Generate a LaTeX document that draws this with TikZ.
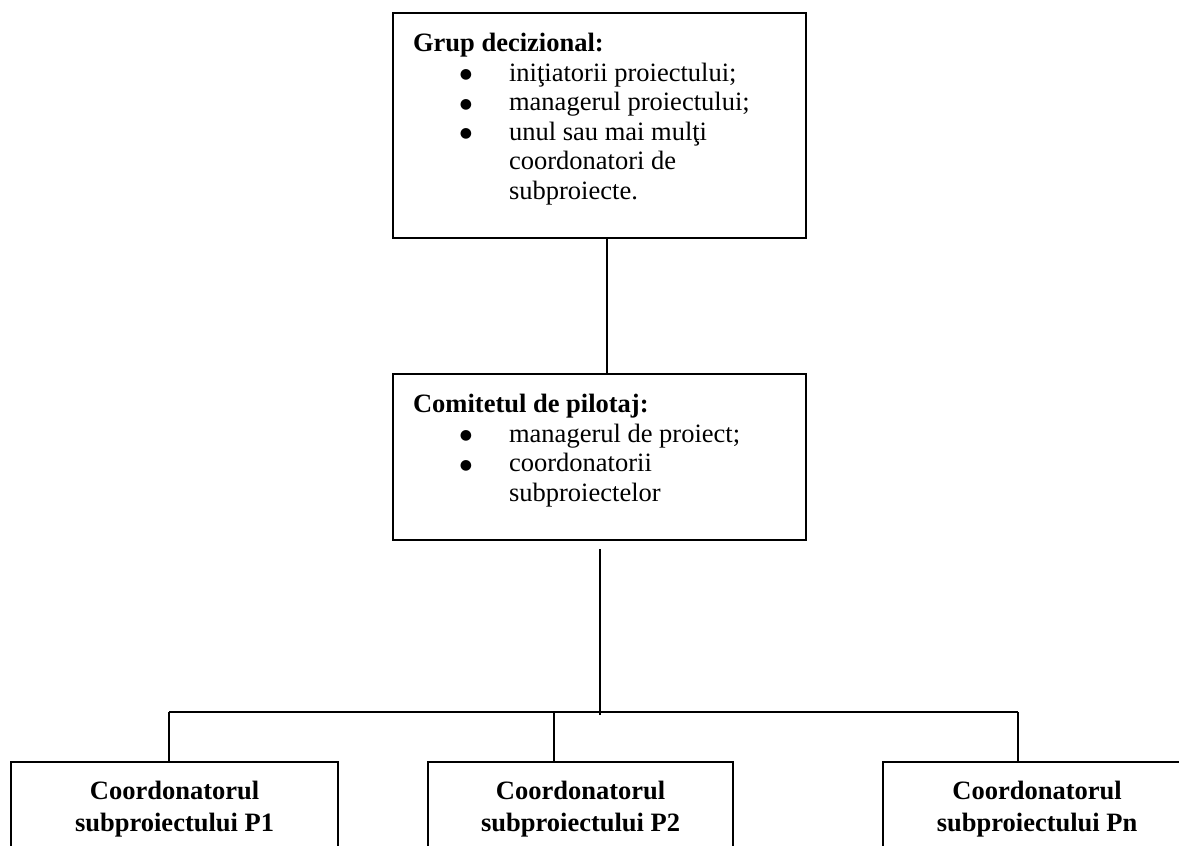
\documentclass[tikz,border=0pt]{standalone}
\usepackage{fontspec}
\setmainfont{Liberation Serif}
\newfontfamily\dotfont{DejaVu Sans}
\newcommand{\bulletline}[1]{\hspace*{23.5pt}\makebox[6pt][c]{\raisebox{1.3pt}{\dotfont\fontsize{7}{7}\selectfont ●}}\hspace*{18.5pt}#1}
\newcommand{\wrapline}[1]{\hspace*{48pt}#1}

\begin{document}
\begin{tikzpicture}[x=0.5pt, y=-0.5pt,
        box/.style={draw, line width=1.1pt, anchor=north west, inner xsep=10pt, inner ysep=10pt, font=\fontsize{13.25}{14.8}\selectfont},
        subbox/.style={draw, line width=1.1pt, anchor=north west, inner xsep=0pt, inner ysep=9.5pt, font=\fontsize{13.25}{16}\selectfont\bfseries},
        link/.style={line width=0.9pt}]
        \useasboundingbox (0,0) rectangle (1179,846);
        \clip (0,0) rectangle (1179,846);

        \node[box] (grup) at (392,12) {\parbox[t][92.5pt][t]{186.5pt}{\textbf{Grup decizional:}\\
            \bulletline{iniţiatorii proiectului;}\\
            \bulletline{managerul proiectului;}\\
            \bulletline{unul sau mai mulţi}\\
            \wrapline{coordonatori de}\\
            \wrapline{subproiecte.}}};

        \node[box] (comitet) at (392,373) {\parbox[t][63pt][t]{186.5pt}{\textbf{Comitetul de pilotaj:}\\
            \bulletline{managerul de proiect;}\\
            \bulletline{coordonatorii}\\
            \wrapline{subproiectelor}}};

        \node[subbox] (p1) at (10,761) {\parbox[t][50pt][t]{163.5pt}{\centering Coordonatorul\\subproiectului P1}};
        \node[subbox] (p2) at (427,761) {\parbox[t][50pt][t]{152.5pt}{\centering Coordonatorul\\subproiectului P2}};
        \node[subbox] (pn) at (882,761) {\parbox[t][50pt][t]{154pt}{\centering Coordonatorul\\subproiectului Pn}};

        \draw[link] ([xshift=3.75pt]grup.south) -- ([xshift=3.75pt]grup.south |- comitet.north);

        \coordinate (hub) at (598,712);
        \coordinate (d1) at (169,712);
        \coordinate (d2) at (554,712);
        \coordinate (d3) at (1018,712);
        \draw[link] ([yshift=-4pt]comitet.south) -- ([yshift=-1.5pt]comitet.south |- hub);
        \draw[link] (d1) -- (d3);
        \draw[link] (d1) -- (d1 |- p1.north);
        \draw[link] (d2) -- (d2 |- p2.north);
        \draw[link] (d3) -- (d3 |- pn.north);
    \end{tikzpicture}
\end{document}
